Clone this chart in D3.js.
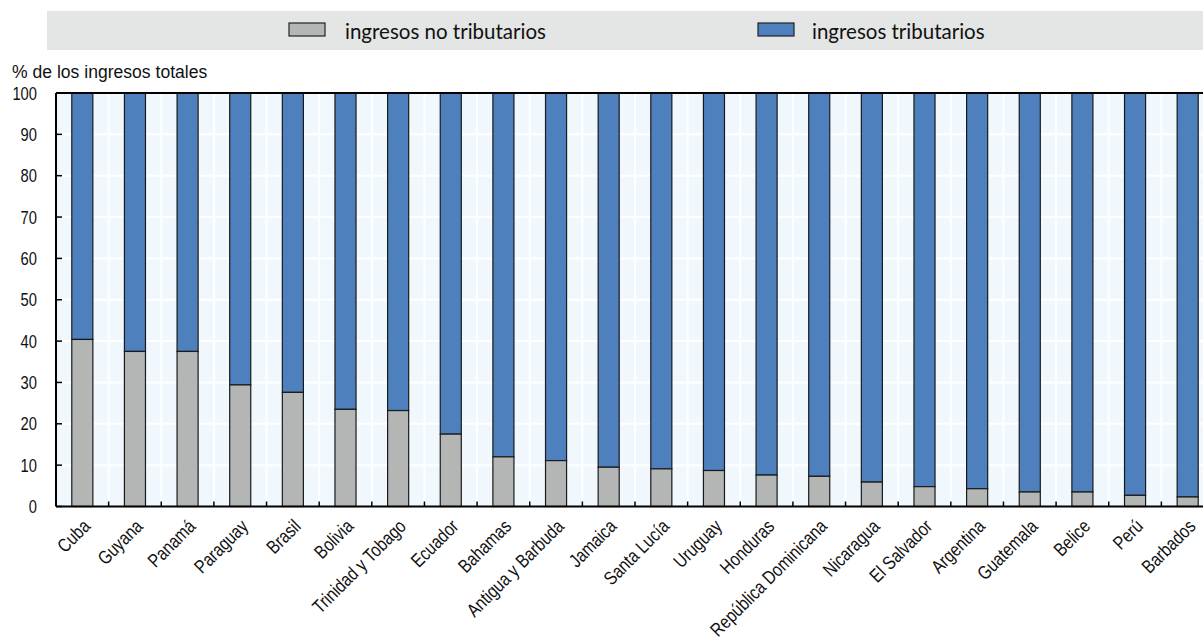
<!DOCTYPE html>
<html><head><meta charset="utf-8">
<script src="https://cdn.jsdelivr.net/npm/d3@7"></script>
<style>
body{margin:0;background:#fff;}
svg{display:block;}
.narrow{font-family:"Liberation Sans",Arial,sans-serif;}
</style></head>
<body>
<svg id="chart" width="1203" height="644"></svg>
<script>
const categories = ["Cuba","Guyana","Panamá","Paraguay","Brasil","Bolivia","Trinidad y Tobago","Ecuador","Bahamas","Antigua y Barbuda","Jamaica","Santa Lucía","Uruguay","Honduras","República Dominicana","Nicaragua","El Salvador","Argentina","Guatemala","Belice","Perú","Barbados"];
const noTributarios = [40.4,37.5,37.5,29.4,27.6,23.5,23.2,17.5,12.0,11.1,9.5,9.1,8.7,7.6,7.3,5.9,4.8,4.3,3.5,3.5,2.7,2.3];
const tributarios = noTributarios.map(v => 100 - v);
const seriesNames = ["ingresos no tributarios","ingresos tributarios"];
const yTicks = [0,10,20,30,40,50,60,70,80,90,100];
const yLabel = "% de los ingresos totales";

const colors = {no:"#b4b6b6", tri:"#4d80bd"};
const svg = d3.select("#chart");
const m = {left:56, top:93, right:1214, bottom:506.5};
const sx = 0.82; // horizontal condensing to mimic a narrow face

// legend band
svg.append("rect").attr("x",47).attr("y",11).attr("width",1160).attr("height",39).attr("fill","#e4e5e5");
const legItems = [{x:289, tx:345, c:colors.no, t:seriesNames[0]},{x:758, tx:812, c:colors.tri, t:seriesNames[1]}];
legItems.forEach(d=>{
  svg.append("rect").attr("x",d.x).attr("y",23).attr("width",36).attr("height",13).attr("fill",d.c).attr("stroke","#222").attr("stroke-width",1.2);
  svg.append("text").attr("x",d.tx).attr("y",38.5).attr("font-family","Lato, 'Open Sans', sans-serif").attr("font-size",20.5).attr("fill","#111").text(d.t);
});

const x = d3.scaleBand().domain(categories).range([m.left,m.right]).paddingInner(0).paddingOuter(0);
const y = d3.scaleLinear().domain([0,100]).range([m.bottom,m.top]);
const bw = x.bandwidth()*0.4;

// plot background
svg.append("rect").attr("x",m.left).attr("y",m.top).attr("width",m.right-m.left).attr("height",m.bottom-m.top).attr("fill","#f0f8fd");
// gridlines
svg.append("g").selectAll("line").data(yTicks.slice(1,-1)).join("line")
  .attr("x1",m.left).attr("x2",m.right).attr("y1",d=>y(d)).attr("y2",d=>y(d)).attr("stroke","#fff").attr("stroke-width",2);
svg.append("g").selectAll("line").data(categories.slice(1)).join("line")
  .attr("x1",d=>x(d)).attr("x2",d=>x(d)).attr("y1",m.top).attr("y2",m.bottom).attr("stroke","#fff").attr("stroke-width",2);

// bars
const g = svg.append("g");
categories.forEach((c,i)=>{
  const cx = x(c)+x.bandwidth()/2;
  g.append("rect").attr("x",cx-bw/2).attr("width",bw).attr("y",y(noTributarios[i]+tributarios[i])).attr("height",y(noTributarios[i])-y(noTributarios[i]+tributarios[i]))
    .attr("fill",colors.tri).attr("stroke","#1a1a1a").attr("stroke-width",1.2);
  g.append("rect").attr("x",cx-bw/2).attr("width",bw).attr("y",y(noTributarios[i])).attr("height",y(0)-y(noTributarios[i]))
    .attr("fill",colors.no).attr("stroke","#1a1a1a").attr("stroke-width",1.2);
});

// x-axis ticks at band boundaries
svg.append("g").selectAll("line").data(categories.slice(1)).join("line")
  .attr("x1",d=>x(d)).attr("x2",d=>x(d)).attr("y1",m.bottom).attr("y2",m.bottom-5).attr("stroke","#000").attr("stroke-width",1.5);
// y ticks
svg.append("g").selectAll("line").data(yTicks).join("line")
  .attr("x1",m.left).attr("x2",m.left+6).attr("y1",d=>y(d)).attr("y2",d=>y(d)).attr("stroke","#000").attr("stroke-width",1.5);
// frame
svg.append("line").attr("x1",m.left).attr("x2",m.right).attr("y1",m.top).attr("y2",m.top).attr("stroke","#000").attr("stroke-width",2);
svg.append("line").attr("x1",m.left).attr("x2",m.right).attr("y1",m.bottom).attr("y2",m.bottom).attr("stroke","#000").attr("stroke-width",2);
svg.append("line").attr("x1",m.left).attr("x2",m.left).attr("y1",m.top).attr("y2",m.bottom).attr("stroke","#000").attr("stroke-width",2);

// y tick labels
svg.append("g").attr("class","narrow").selectAll("text").data(yTicks).join("text")
  .attr("text-anchor","end").attr("font-size",18).attr("fill","#111")
  .attr("transform",d=>`translate(37,${y(d)+6.5}) scale(${sx},1)`).text(d=>d);
svg.append("text").attr("class","narrow").attr("font-size",18.5).attr("fill","#111")
  .attr("transform",`translate(12,78) scale(0.95,1)`).text(yLabel);

// x labels
svg.append("g").attr("class","narrow").selectAll("text").data(categories).join("text")
  .attr("text-anchor","end").attr("font-size",19).attr("fill","#111")
  .attr("transform",d=>`translate(${x(d)+x.bandwidth()/2+9},${m.bottom+21}) rotate(-45) scale(${sx},1)`).text(d=>d);
</script>
</body></html>
